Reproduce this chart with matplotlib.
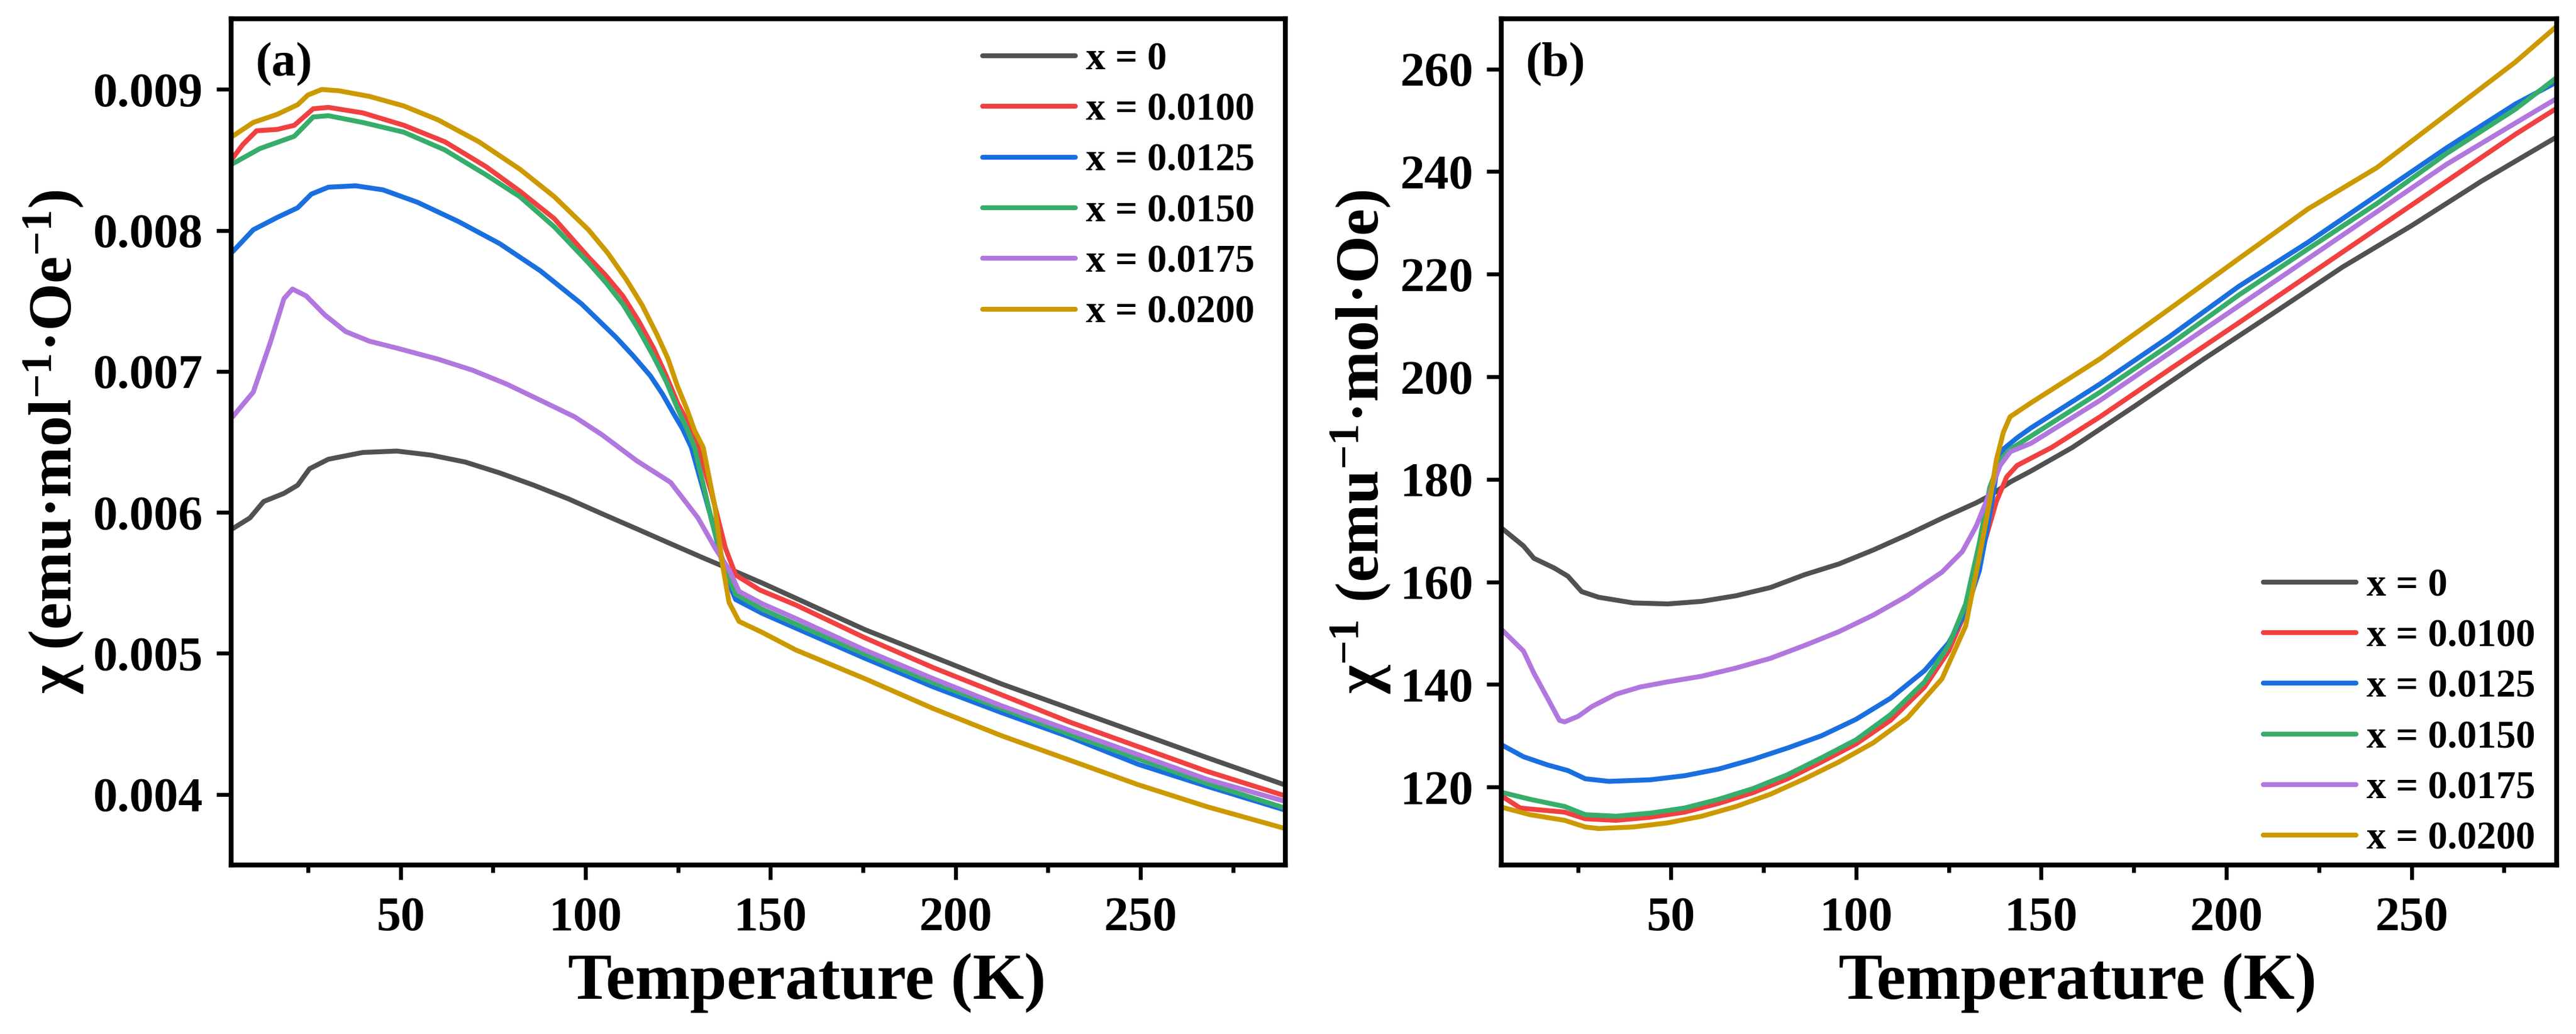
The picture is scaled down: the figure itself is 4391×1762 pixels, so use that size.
import matplotlib
matplotlib.use("Agg")
import matplotlib.pyplot as plt
from matplotlib.ticker import MultipleLocator, FormatStrFormatter

plt.rcParams["font.family"] = "Liberation Serif"
plt.rcParams["font.weight"] = "bold"
plt.rcParams["mathtext.default"] = "regular"

labels = ["x = 0", "x = 0.0100", "x = 0.0125", "x = 0.0150", "x = 0.0175", "x = 0.0200"]
colors = ["#515151", "#F14040", "#1A6FDF", "#37AD6B", "#B177DE", "#CC9900"]

# (a) chi vs T
t_a0 = [4.6, 9.3, 13, 18.5, 22.2, 25.4, 30.5, 39.8, 49, 58.3, 67.5, 76.8, 86, 95.3, 104.5,
        113.8, 123, 132.3, 141.5, 147.7, 156.9, 175.5, 194, 212.5, 231, 249.5, 268, 289]
chi_0 = [0.005884, 0.005961, 0.006077, 0.006135, 0.006193, 0.006309, 0.006377, 0.006425,
         0.006435, 0.006406, 0.006357, 0.00628, 0.006193, 0.006097, 0.00599, 0.005884,
         0.005778, 0.005672, 0.00557, 0.0055, 0.005391, 0.005169, 0.004976, 0.004783,
         0.004609, 0.004435, 0.004261, 0.004068]

t_a100 = [4.6, 7.4, 11.1, 16.7, 21.3, 26.4, 30.5, 39.8, 50.9, 62, 73.1, 82.3, 91.6, 100.8,
          105.5, 110.1, 114.3, 118.4, 121.8, 124.9, 127.8, 130.4, 134.1, 137.8, 140.6, 147.1,
          156.9, 175.5, 194, 212.5, 231, 249.5, 268, 289]
chi_100 = [0.008511, 0.008609, 0.008706, 0.008716, 0.008745, 0.008862, 0.008872, 0.008833,
           0.008745, 0.008628, 0.008452, 0.008277, 0.008082, 0.00781, 0.00768, 0.007535,
           0.00736, 0.007165, 0.00697, 0.006775, 0.00663, 0.006462, 0.006135, 0.005749,
           0.005556, 0.00545, 0.005343, 0.005111, 0.004899, 0.004706, 0.004512, 0.004338,
           0.004164, 0.003991]

t_a125 = [4.6, 10.2, 16.7, 22.2, 25.9, 30.5, 37.9, 45.3, 54.6, 65.7, 76.8, 87.9, 99, 103.6,
          108.2, 112.9, 117.5, 120.8, 123.9, 126.3, 128.6, 134.1, 137.8, 140.6, 147.7, 156.9,
          175.5, 194, 212.5, 231, 249.5, 268, 289]
chi_125 = [0.007848, 0.008004, 0.008092, 0.00816, 0.008257, 0.008306, 0.008316, 0.008287,
           0.008199, 0.008062, 0.007906, 0.007711, 0.007477, 0.00736, 0.007243, 0.00711,
           0.00697, 0.00684, 0.006697, 0.00659, 0.006462, 0.00595, 0.005556, 0.005382,
           0.005285, 0.005179, 0.004966, 0.004763, 0.00458, 0.004406, 0.004213, 0.004058,
           0.00389]

t_a150 = [4.6, 12, 21.3, 26.4, 30.5, 39.8, 50.9, 62, 73.1, 82.3, 91.6, 100.8, 105.5, 110.1,
          114.3, 118.4, 121.8, 124.9, 127.3, 129.5, 134.1, 137.8, 140.6, 147.7, 156.9, 175.5,
          194, 212.5, 231, 249.5, 268, 289]
chi_150 = [0.008472, 0.00858, 0.008667, 0.008804, 0.008813, 0.008765, 0.008696, 0.00857,
           0.008394, 0.008238, 0.008024, 0.00777, 0.00763, 0.007477, 0.0073, 0.007106,
           0.00693, 0.006736, 0.0066, 0.006462, 0.005942, 0.005594, 0.00542, 0.005314,
           0.005208, 0.004995, 0.004792, 0.004609, 0.004425, 0.004252, 0.004078, 0.003904]

t_a175 = [4.6, 10.2, 14.8, 18.5, 20.8, 24.5, 29.6, 35.2, 41.6, 49, 60.1, 69.4, 78.6, 87.9,
          97.1, 104.5, 113.8, 123, 130.4, 135, 138.8, 141.5, 147.7, 156.9, 175.5, 194, 212.5,
          231, 249.5, 268, 289]
chi_175 = [0.006677, 0.006853, 0.007204, 0.007516, 0.007584, 0.007535, 0.007399, 0.007282,
           0.007214, 0.007165, 0.007087, 0.007009, 0.006911, 0.006794, 0.006677, 0.00655,
           0.006367, 0.006213, 0.005961, 0.005749, 0.005594, 0.00544, 0.005353, 0.005247,
           0.005024, 0.004821, 0.004628, 0.004454, 0.004281, 0.004107, 0.003952]

t_a200 = [4.6, 10.2, 16.7, 22.2, 25, 28.7, 33.3, 41.6, 50.9, 60.1, 71.2, 82.3, 91.6, 100.8,
          106, 111, 115.3, 119.3, 122.3, 124.9, 127.3, 129.5, 131.8, 135, 136.9, 138.8, 141.5,
          147.7, 156.9, 175.5, 194, 212.5, 231, 249.5, 268, 289]
chi_200 = [0.008667, 0.008765, 0.008823, 0.008891, 0.00896, 0.008999, 0.00899, 0.00895,
           0.008882, 0.008784, 0.008628, 0.008433, 0.008238, 0.008004, 0.00784, 0.007653,
           0.00747, 0.007262, 0.00709, 0.006892, 0.00674, 0.00658, 0.006462, 0.006039,
           0.005652, 0.005362, 0.005227, 0.00515, 0.005024, 0.004821, 0.004609, 0.004416,
           0.004242, 0.004068, 0.003913, 0.003759]

# (b) 1/chi vs T
t_b0 = [4.6, 10.2, 13, 18.5, 22.2, 25.9, 30.5, 39.8, 49.1, 58.3, 67.6, 76.9, 86.1, 95.4,
        104.6, 113.9, 123.2, 132.4, 136.1, 141.7, 147.2, 158.4, 175.3, 194, 212.7, 231.4,
        250.1, 268.8, 289.3]
inv_0 = [170.3, 167.0, 164.6, 162.7, 161.1, 158.1, 157.0, 155.9, 155.7, 156.2, 157.3, 158.9,
         161.4, 163.5, 166.2, 169.2, 172.4, 175.4, 176.8, 179.5, 181.6, 186.2, 194.3, 203.5,
         212.4, 221.4, 229.5, 238.1, 246.8]

t_b100 = [4.6, 9.3, 12, 21.3, 26.9, 35.2, 44.4, 53.7, 62.9, 72.2, 81.5, 90.7, 100, 109.3,
          118.5, 125, 130.5, 134.2, 137.9, 140.7, 143.5, 147.2, 152.8, 165.9, 184.6, 203.3,
          222, 240.7, 259.4, 278.1, 289.3]
inv_100 = [118.1, 115.9, 115.7, 115.1, 113.8, 113.5, 114.1, 115.1, 116.8, 118.9, 121.6,
           124.9, 128.4, 133.0, 139.5, 146.5, 155.7, 166.5, 175.7, 180.5, 182.7, 184.1,
           186.2, 192.2, 201.4, 210.5, 219.7, 228.9, 238.1, 247.3, 252.4]

t_b125 = [4.6, 10.2, 16.7, 22.2, 26.9, 33.3, 44.4, 53.7, 62.9, 72.2, 81.5, 90.7, 100, 109.3,
          118.5, 125, 129.6, 133.3, 136.1, 137.9, 139.8, 143.5, 147.2, 165.9, 184.6, 203.3,
          222, 240.7, 259.4, 278.1, 289.3]
inv_125 = [128.1, 125.9, 124.3, 123.2, 121.6, 121.1, 121.4, 122.2, 123.5, 125.4, 127.6,
           130.0, 133.2, 137.3, 142.7, 148.1, 154.1, 162.2, 173.0, 181.1, 185.9, 188.1,
           190.0, 198.6, 207.8, 217.6, 226.2, 235.4, 244.6, 253.2, 257.5]

t_b150 = [4.6, 12, 21.3, 26.9, 35.2, 44.4, 53.7, 62.9, 72.2, 81.5, 90.7, 100, 109.3, 118.5,
          125, 129.6, 133.3, 136.1, 138.9, 141.7, 147.2, 165.9, 184.6, 203.3, 222, 240.7,
          259.4, 278.1, 289.3]
inv_150 = [118.9, 117.6, 116.2, 114.6, 114.3, 114.9, 115.9, 117.6, 119.7, 122.4, 125.7,
           129.2, 134.1, 140.5, 147.6, 155.7, 167.6, 178.4, 183.8, 185.9, 188.4, 197.0,
           206.2, 215.9, 224.9, 233.8, 243.5, 252.2, 258.4]

t_b175 = [4.6, 10.2, 13, 16.7, 19.9, 21.3, 25, 28.7, 35.2, 41.7, 49.1, 58.3, 67.6, 76.9,
          86.1, 95.4, 104.6, 113.9, 123.2, 128.7, 132.4, 136.1, 138.9, 141.7, 147.2, 165.9,
          184.6, 203.3, 222, 240.7, 259.4, 278.1, 289.3]
inv_175 = [150.5, 146.5, 142.2, 137.3, 133.0, 132.7, 133.8, 135.7, 138.1, 139.5, 140.5,
           141.6, 143.2, 145.1, 147.6, 150.3, 153.5, 157.3, 161.9, 165.9, 170.8, 177.3,
           182.7, 185.4, 187.0, 195.4, 204.6, 213.8, 223.0, 232.2, 241.4, 249.5, 254.3]

t_b200 = [4.6, 12, 21.3, 26.9, 30.5, 39.8, 49.1, 58.3, 67.6, 76.9, 86.1, 95.4, 104.6, 113.9,
          123.2, 129.6, 133.3, 136.1, 137.9, 139.8, 141.6, 147.2, 165.9, 184.6, 203.3, 222,
          240.7, 259.4, 278.1, 289.3]
inv_200 = [116.0, 114.6, 113.5, 112.2, 111.9, 112.2, 113.0, 114.3, 116.2, 118.6, 121.6,
           124.9, 128.6, 133.5, 141.1, 151.4, 164.9, 175.7, 183.8, 189.2, 192.2, 194.9,
           203.5, 213.2, 223.0, 232.7, 240.8, 251.1, 261.4, 268.4]

series_a = [(t_a0, chi_0), (t_a100, chi_100), (t_a125, chi_125),
            (t_a150, chi_150), (t_a175, chi_175), (t_a200, chi_200)]
series_b = [(t_b0, inv_0), (t_b100, inv_100), (t_b125, inv_125),
            (t_b150, inv_150), (t_b175, inv_175), (t_b200, inv_200)]

fig = plt.figure(figsize=(4391 / 300, 1762 / 300), dpi=300)
ax1 = fig.add_axes([0.0897, 0.1635, 0.4093, 0.8183])
ax2 = fig.add_axes([0.5828, 0.1635, 0.4097, 0.8183])


def style_axes(ax):
    for s in ax.spines.values():
        s.set_linewidth(2.0)
    ax.set_xlim(4.2, 289.2)
    ax.xaxis.set_major_locator(MultipleLocator(50))
    ax.xaxis.set_minor_locator(MultipleLocator(25))
    ax.tick_params(axis="both", which="major", direction="out", length=6, width=1.6,
                   labelsize=20, top=False, right=False)
    ax.tick_params(axis="x", which="minor", direction="out", length=3, width=1.6, top=False)
    ax.tick_params(axis="x", which="major", pad=7)
    ax.tick_params(axis="y", which="major", pad=5.5)
    ax.set_xlabel("Temperature (K)", fontsize=27, fontweight="bold", labelpad=5, x=0.546)


for (t, v), c, lab in zip(series_a, colors, labels):
    ax1.plot(t, v, color=c, lw=2.0, label=lab, solid_capstyle="round", solid_joinstyle="round")
for (t, v), c, lab in zip(series_b, colors, labels):
    ax2.plot(t, v, color=c, lw=2.0, label=lab, solid_capstyle="round", solid_joinstyle="round")

style_axes(ax1)
ax1.set_ylim(0.0035, 0.0095)
ax1.yaxis.set_major_locator(MultipleLocator(0.001))
ax1.yaxis.set_major_formatter(FormatStrFormatter("%.3f"))
ax1.set_ylabel("χ (emu·mol$^{-1}$·Oe$^{-1}$)", fontsize=25, fontweight="bold", labelpad=3)
ax1.text(0.023, 0.972, "(a)", transform=ax1.transAxes, fontsize=20, fontweight="bold",
         va="top", ha="left")
ax1.legend(loc="center left", bbox_to_anchor=(0.713, 0.802), frameon=False, fontsize=16,
           handlelength=2.37, handletextpad=0.27, labelspacing=0.38, borderpad=0,
           borderaxespad=0)

style_axes(ax2)
ax2.set_ylim(104.8, 269.8)
ax2.yaxis.set_major_locator(MultipleLocator(20))
ax2.set_ylabel("χ$^{-1}$ (emu$^{-1}$·mol·Oe)", fontsize=25, fontweight="bold", labelpad=3)
ax2.text(0.023, 0.972, "(b)", transform=ax2.transAxes, fontsize=20, fontweight="bold",
         va="top", ha="left")
ax2.legend(loc="center left", bbox_to_anchor=(0.722, 0.180), frameon=False, fontsize=16,
           handlelength=2.37, handletextpad=0.27, labelspacing=0.38, borderpad=0,
           borderaxespad=0)

fig.savefig("out.png", dpi=300)
